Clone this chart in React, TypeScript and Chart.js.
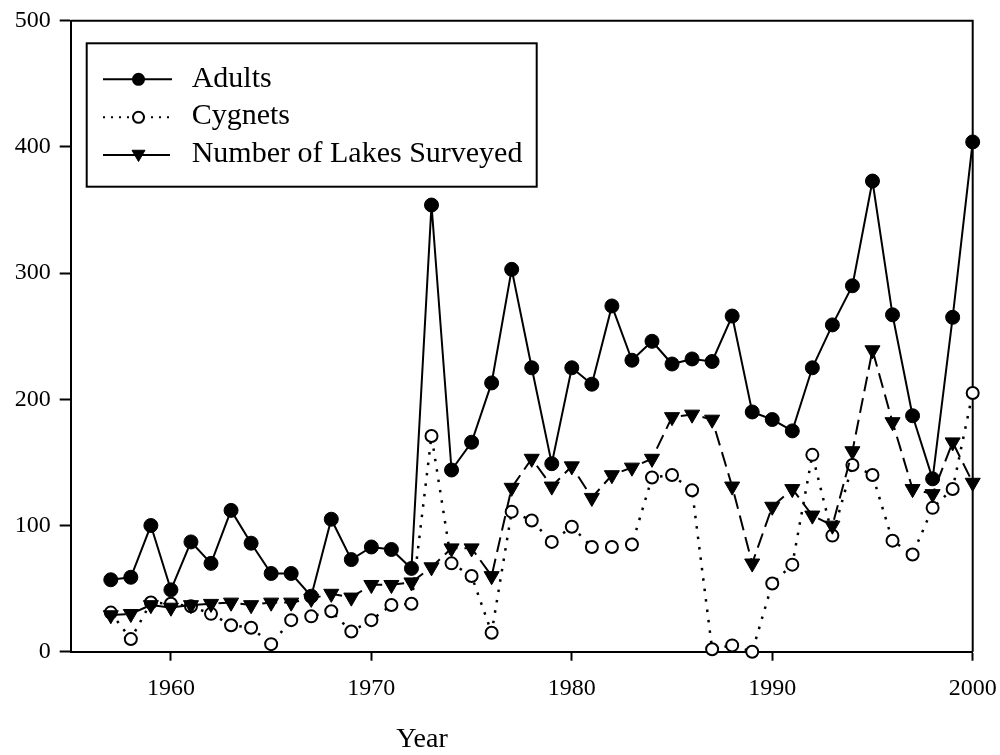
import React, { useEffect, useRef } from "react";
import { Chart, registerables } from "chart.js";

Chart.register(...registerables);

const years = [
  1957, 1958, 1959, 1960, 1961, 1962, 1963, 1964, 1965, 1966, 1967, 1968, 1969,
  1970, 1971, 1972, 1973, 1974, 1975, 1976, 1977, 1978, 1979, 1980, 1981, 1982,
  1983, 1984, 1985, 1986, 1987, 1988, 1989, 1990, 1991, 1992, 1993, 1994, 1995,
  1996, 1997, 1998, 1999, 2000,
];
const adults = [
  57, 59, 100, 49, 87, 70, 112, 86, 62, 62, 44, 105, 73, 83, 81, 66, 354, 144,
  166, 213, 303, 225, 149, 225, 212, 274, 231, 246, 228, 232, 230, 266, 190,
  184, 175, 225, 259, 290, 373, 267, 187, 137, 265, 404,
];
const cygnets = [
  31, 10, 39, 38, 36, 30, 21, 19, 6, 25, 28, 32, 16, 25, 37, 38, 171, 70, 60,
  15, 111, 104, 87, 99, 83, 83, 85, 138, 140, 128, 2, 5, 0, 54, 69, 156, 92,
  148, 140, 88, 77, 114, 129, 205,
];
const lakes = [
  29, 30, 37, 35, 37, 38, 39, 37, 39, 39, 42, 46, 43, 53, 53, 55, 67, 82, 82,
  60, 130, 153, 131, 147, 122, 140, 146, 153, 186, 188, 184, 131, 70, 115, 129,
  108, 100, 159, 239, 182, 129, 125, 166, 134,
];
const xTicks = [1960, 1970, 1980, 1990, 2000];
const yTicks = [0, 100, 200, 300, 400, 500];
const seriesNames = ["Adults", "Cygnets", "Number of Lakes Surveyed"];
const xTitle = "Year";

const FONT = "'Liberation Serif', 'Times New Roman', Times, serif";

function toPoints(vals: number[]) {
  return years.map((yr, i) => ({ x: yr, y: vals[i] }));
}

function drawTriangleDown(ctx: CanvasRenderingContext2D, x: number, y: number, r: number) {
  ctx.beginPath();
  ctx.moveTo(x, y + r);
  ctx.lineTo(x - r * Math.sin(Math.PI / 3), y - r / 2);
  ctx.lineTo(x + r * Math.sin(Math.PI / 3), y - r / 2);
  ctx.closePath();
  ctx.fill();
  ctx.stroke();
}

const framePlugin = {
  id: "frameAndLegend",
  beforeDatasetsDraw(chart: any) {
    const { ctx, chartArea: a } = chart;
    ctx.save();
    ctx.strokeStyle = "#000";
    ctx.lineWidth = 2;
    ctx.beginPath();
    ctx.moveTo(a.left, a.top);
    ctx.lineTo(a.right, a.top);
    ctx.lineTo(a.right, a.bottom);
    ctx.stroke();
    ctx.restore();
  },
  afterDraw(chart: any) {
    const { ctx } = chart;
    ctx.save();
    const bx = 86.7, by = 43.3, bw = 450, bh = 143.4;
    ctx.fillStyle = "#fff";
    ctx.fillRect(bx, by, bw, bh);
    ctx.strokeStyle = "#000";
    ctx.lineWidth = 2;
    ctx.strokeRect(bx, by, bw, bh);

    const lx0 = 103, lx1 = 172, mx = 138.5, tx = 191.7;
    const rows = [79.3, 117.3, 155];
    const baselines = [86.7, 123.5, 161.7];

    // Adults
    ctx.setLineDash([]);
    ctx.lineWidth = 2;
    ctx.beginPath();
    ctx.moveTo(lx0, rows[0]);
    ctx.lineTo(lx1, rows[0]);
    ctx.stroke();
    ctx.fillStyle = "#000";
    ctx.beginPath();
    ctx.arc(mx, rows[0], 6.5, 0, Math.PI * 2);
    ctx.fill();

    // Cygnets
    ctx.setLineDash([2, 6]);
    ctx.beginPath();
    ctx.moveTo(lx0, rows[1]);
    ctx.lineTo(lx1, rows[1]);
    ctx.stroke();
    ctx.setLineDash([]);
    ctx.fillStyle = "#fff";
    ctx.beginPath();
    ctx.arc(mx, rows[1], 5.5, 0, Math.PI * 2);
    ctx.fill();
    ctx.stroke();

    // Lakes
    ctx.beginPath();
    ctx.moveTo(lx0, rows[2]);
    ctx.lineTo(lx1 - 2, rows[2]);
    ctx.stroke();
    ctx.fillStyle = "#000";
    ctx.lineWidth = 1;
    drawTriangleDown(ctx, mx, rows[2] - 1, 7.5);

    ctx.fillStyle = "#000";
    ctx.font = `30px ${FONT}`;
    ctx.textAlign = "left";
    ctx.textBaseline = "alphabetic";
    seriesNames.forEach((name, i) => ctx.fillText(name, tx, baselines[i]));

    ctx.font = `28px ${FONT}`;
    ctx.textAlign = "center";
    ctx.textBaseline = "middle";
    ctx.fillText(xTitle, 422, 740);
    ctx.restore();
  },
};

export default function App() {
  const canvasRef = useRef<HTMLCanvasElement | null>(null);

  useEffect(() => {
    const canvas = canvasRef.current;
    if (!canvas) return;
    const chart = new Chart(canvas, {
      type: "line",
      data: {
        datasets: [
          {
            label: seriesNames[0],
            data: toPoints(adults),
            borderColor: "#000",
            borderWidth: 2,
            pointStyle: "circle",
            pointRadius: 7,
            pointBackgroundColor: "#000",
            pointBorderColor: "#000",
            pointBorderWidth: 1,
            tension: 0,
            clip: false as any,
            order: 0,
          },
          {
            label: seriesNames[1],
            data: toPoints(cygnets),
            borderColor: "#000",
            borderWidth: 2.5,
            borderDash: [2.5, 8],
            pointStyle: "circle",
            pointRadius: 6,
            pointBackgroundColor: "#fff",
            pointBorderColor: "#000",
            pointBorderWidth: 2,
            tension: 0,
            clip: false as any,
            order: 2,
          },
          {
            label: seriesNames[2],
            data: toPoints(lakes),
            borderColor: "#000",
            borderWidth: 2,
            borderDash: [15, 7],
            pointStyle: "triangle",
            rotation: 180,
            pointRadius: 8.7,
            pointBackgroundColor: "#000",
            pointBorderColor: "#000",
            pointBorderWidth: 1,
            tension: 0,
            clip: false as any,
            order: 1,
          },
        ],
      },
      options: {
        responsive: false,
        maintainAspectRatio: false,
        animation: false,
        devicePixelRatio: 1,
        layout: { padding: { left: 0, right: 27.3, top: 20.8, bottom: 0 } },
        plugins: {
          legend: { display: false },
          tooltip: { enabled: false },
          title: { display: false },
        },
        scales: {
          x: {
            type: "linear",
            min: 1955,
            max: 2000,
            afterBuildTicks: (axis: any) => {
              axis.ticks = xTicks.map((v) => ({ value: v }));
            },
            afterFit: (axis: any) => {
              axis.height = 103.3;
              axis.paddingLeft = 0;
              axis.paddingRight = 0;
            },
            ticks: {
              color: "#000",
              font: { family: FONT, size: 24, lineHeight: 1.2 },
              padding: 14,
              maxRotation: 0,
              autoSkip: false,
              callback: (v: any) => String(v),
            },
            grid: {
              drawOnChartArea: false,
              drawTicks: true,
              tickLength: 9,
              tickColor: "#000",
              tickWidth: 2,
            },
            border: { display: true, color: "#000", width: 2 },
          },
          y: {
            type: "linear",
            min: 0,
            max: 500,
            afterBuildTicks: (axis: any) => {
              axis.ticks = yTicks.map((v) => ({ value: v }));
            },
            afterFit: (axis: any) => {
              axis.width = 70.7;
              axis.paddingTop = 0;
              axis.paddingBottom = 0;
            },
            ticks: {
              color: "#000",
              font: { family: FONT, size: 24, lineHeight: 1.2 },
              padding: 9,
              autoSkip: false,
              callback: (v: any) => String(v),
            },
            grid: {
              drawOnChartArea: false,
              drawTicks: true,
              tickLength: 11,
              tickColor: "#000",
              tickWidth: 2,
            },
            border: { display: true, color: "#000", width: 2 },
          },
        },
      },
      plugins: [framePlugin],
    } as any);
    return () => chart.destroy();
  }, []);

  return (
    <div style={{ position: "absolute", left: 0, top: 0, width: 1000, height: 755, background: "#fff" }}>
      <canvas ref={canvasRef} width={1000} height={755} style={{ width: 1000, height: 755, display: "block" }} />
    </div>
  );
}
